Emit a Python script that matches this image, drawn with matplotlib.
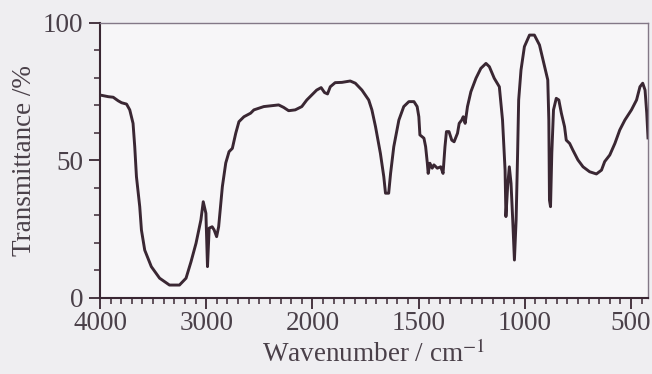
import numpy as np
import matplotlib
matplotlib.use("Agg")
import matplotlib.pyplot as plt
from matplotlib.ticker import FixedLocator, NullFormatter

# IR spectrum: wavenumber (cm^-1) and transmittance (%)
wavenumber = [
    4000, 3922, 3876, 3829, 3797, 3750, 3720, 3689, 3673, 3657, 3626, 3610,
    3579, 3517, 3439, 3346, 3252, 3190, 3143, 3096, 3050, 3028, 3003, 2988,
    2972, 2944, 2925, 2902, 2883, 2848, 2816, 2785, 2754, 2722, 2692, 2645,
    2582, 2551, 2505, 2458, 2411, 2318, 2271, 2224, 2162, 2100, 2053, 2007,
    1980, 1959, 1943, 1929, 1916, 1893, 1861, 1822, 1798, 1767, 1735, 1720,
    1703, 1680, 1664, 1656, 1641, 1632, 1617, 1593, 1570, 1546, 1522, 1507,
    1499, 1494, 1475, 1467, 1459, 1455, 1447, 1436, 1428, 1412, 1396, 1385,
    1376, 1369, 1357, 1344, 1333, 1317, 1309, 1297, 1290, 1281, 1270, 1254,
    1230, 1207, 1183, 1167, 1144, 1120, 1105, 1093, 1089, 1081, 1073, 1065,
    1057, 1049, 1041, 1034, 1029, 1018, 1002, 978, 955, 931, 907, 892,
    887, 884, 879, 873, 865, 852, 840, 828, 813, 805, 789, 774,
    750, 726, 695, 663, 639, 624, 600, 576, 553, 529, 498, 474,
    458, 445, 434, 426, 420,
]
transmittance = [
    73.7, 73.1, 72.9, 71.6, 70.9, 70.4, 68.3, 63.4, 54.9, 44.0, 33.1, 24.6,
    17.3, 11.3, 7.1, 4.6, 4.6, 7.1, 13.1, 19.8, 28.3, 34.9, 30.7, 11.3,
    25.3, 25.8, 24.6, 22.2, 25.8, 40.4, 49.0, 53.1, 54.3, 59.8, 64.0, 65.8,
    67.1, 68.3, 68.9, 69.5, 69.7, 70.1, 69.2, 68.0, 68.3, 69.5, 71.9, 73.7,
    75.5, 76.4, 74.6, 74.1, 76.7, 78.2, 78.3, 78.8, 78.0, 75.5, 71.9, 68.3,
    62.2, 52.5, 44.0, 38.0, 38.0, 45.2, 54.9, 64.6, 69.5, 71.3, 71.3, 69.5,
    65.8, 59.2, 58.0, 54.9, 48.9, 45.2, 48.9, 47.1, 48.3, 47.1, 47.6, 45.2,
    54.9, 60.4, 60.4, 57.3, 56.7, 59.8, 63.4, 64.6, 65.8, 63.4, 69.5, 74.9,
    79.8, 83.4, 85.2, 84.0, 79.8, 76.7, 64.6, 46.4, 29.5, 40.4, 47.6, 41.6,
    28.3, 13.7, 28.3, 52.5, 71.9, 82.8, 91.3, 95.5, 95.5, 91.9, 84.0, 79.2,
    64.6, 35.5, 33.1, 52.5, 68.3, 72.5, 71.9, 67.1, 62.2, 57.3, 56.1, 53.7,
    50.1, 47.6, 45.8, 45.0, 46.4, 49.5, 51.9, 56.1, 61.0, 64.6, 68.3, 71.9,
    76.7, 78.0, 75.5, 67.1, 58.1,
]

x_major = [4000, 3000, 2000, 1500, 1000, 500]
x_labels = ["4000", "3000", "2000", "1500", "1000", "500"]
y_major = [0, 50, 100]
y_labels = ["0", "50", "100"]

ink = "#3a2733"
text_col = "#4a4049"

plt.rcParams["font.family"] = ["Liberation Serif", "DejaVu Serif"]
plt.rcParams["mathtext.fontset"] = "stix"


# Wavenumber axis: scale doubles below 2000 cm^-1 (increasing in w)
def fwd(w):
    w = np.asarray(w, dtype=float)
    return np.where(w >= 2000, w - 4000, -2000 - 2 * (2000 - w))


def inv(u):
    u = np.asarray(u, dtype=float)
    return np.where(u >= -2000, u + 4000, 2000 + (u + 2000) / 2)


fig = plt.figure(figsize=(6.52, 3.74), dpi=100, facecolor="#efeef1")
ax = fig.add_axes([0.1534, 0.204, 0.8405, 0.7353], facecolor="#f7f6f8")
ax.set_xscale("function", functions=(fwd, inv))
ax.plot(wavenumber, transmittance, color=ink, lw=2.1, solid_joinstyle="round")
ax.set_xlim(4000, 420)
ax.set_ylim(0, 100)

ax.xaxis.set_major_locator(FixedLocator(x_major))
ax.set_xticklabels(x_labels)
ax.xaxis.set_minor_locator(FixedLocator(
    list(np.arange(4000, 2000, -100)) + list(np.arange(2000, 420, -50))))
ax.xaxis.set_minor_formatter(NullFormatter())
ax.yaxis.set_major_locator(FixedLocator(y_major))
ax.set_yticklabels(y_labels)
ax.yaxis.set_minor_locator(FixedLocator(np.arange(0, 101, 10)))

ax.tick_params(axis="both", which="major", direction="out", color=ink,
               width=1.3, labelsize=19.5, labelcolor=text_col)
ax.tick_params(axis="x", which="major", length=8, pad=1.5)
ax.tick_params(axis="y", which="major", length=8, pad=4)
ax.tick_params(axis="both", which="minor", direction="out", color=ink,
               width=1.1, length=4.5)

for side in ("left", "bottom"):
    ax.spines[side].set_color(ink)
    ax.spines[side].set_linewidth(1.5)
for side in ("top", "right"):
    ax.spines[side].set_color("#837887")
    ax.spines[side].set_linewidth(1.0)

ax.set_xlabel("Wavenumber / cm$^{-1}$", fontsize=19.5, color=text_col,
              labelpad=3)
ax.set_ylabel("Transmittance /%", fontsize=19.5, color=text_col, labelpad=4)

fig.savefig("out.png", dpi=100, facecolor=fig.get_facecolor())
